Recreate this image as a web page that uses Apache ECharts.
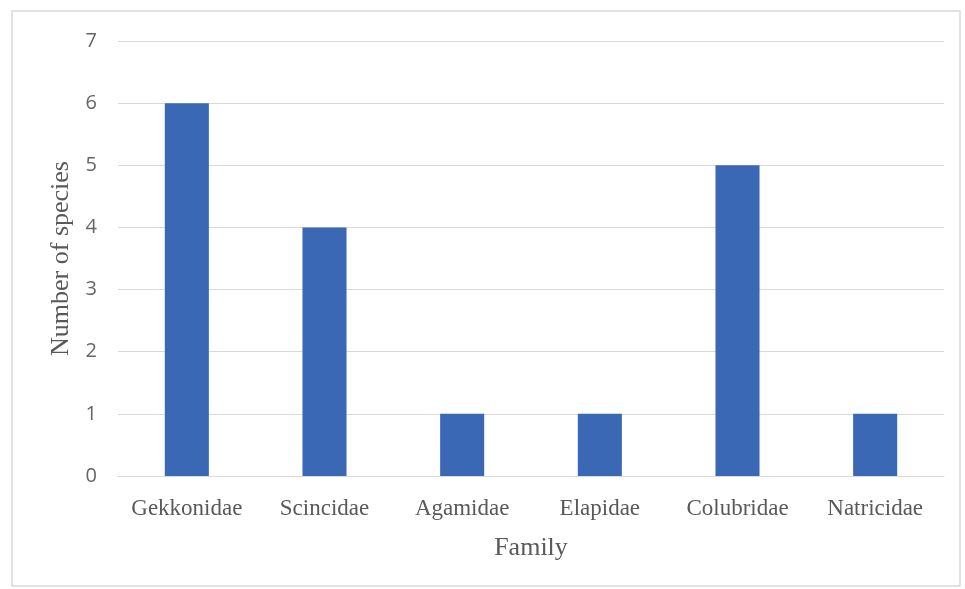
<!DOCTYPE html>
<html>
<head>
<meta charset="utf-8">
<script src="https://cdn.jsdelivr.net/npm/echarts@6/dist/echarts.min.js"></script>
<style>
html,body{margin:0;padding:0;background:#fff;}
#chart{width:965px;height:589px;}
</style>
</head>
<body>
<div id="chart"></div>
<script>
// Species count per reptile family
const families = ['Gekkonidae', 'Scincidae', 'Agamidae', 'Elapidae', 'Colubridae', 'Natricidae'];
const speciesCounts = [6, 4, 1, 1, 5, 1];
const yTicks = [0, 1, 2, 3, 4, 5, 6, 7];

const chart = echarts.init(document.getElementById('chart'));
chart.setOption({
  animation: false,
  graphic: [{
    type: 'rect',
    shape: { x: 12, y: 11, width: 948, height: 575 },
    style: { fill: 'none', stroke: '#d9d9d9', lineWidth: 1.5 },
    silent: true
  }],
  grid: { left: 118, right: 21, top: 41, bottom: 113 },
  xAxis: {
    type: 'category',
    data: families,
    name: 'Family',
    nameLocation: 'middle',
    nameGap: 59,
    nameTextStyle: { fontFamily: 'Liberation Serif', fontSize: 26, color: '#595959' },
    axisLine: { show: true, lineStyle: { color: '#d9d9d9' } },
    axisTick: { show: false },
    axisLabel: { fontFamily: 'Liberation Serif', fontSize: 23, color: '#595959', margin: 21, interval: 0 }
  },
  yAxis: {
    type: 'value',
    min: yTicks[0],
    max: yTicks[yTicks.length - 1],
    interval: 1,
    name: 'Number of species',
    nameLocation: 'middle',
    nameGap: 43,
    nameTextStyle: { fontFamily: 'Liberation Serif', fontSize: 26, color: '#595959' },
    axisLine: { show: false },
    axisTick: { show: false },
    axisLabel: { fontFamily: 'Open Sans', fontSize: 20, color: '#666666', margin: 21 },
    splitLine: { lineStyle: { color: '#d9d9d9', width: 1 } }
  },
  series: [{
    type: 'bar',
    data: speciesCounts,
    barWidth: '32%',
    itemStyle: { color: '#3a68b4' }
  }]
});
</script>
</body>
</html>
